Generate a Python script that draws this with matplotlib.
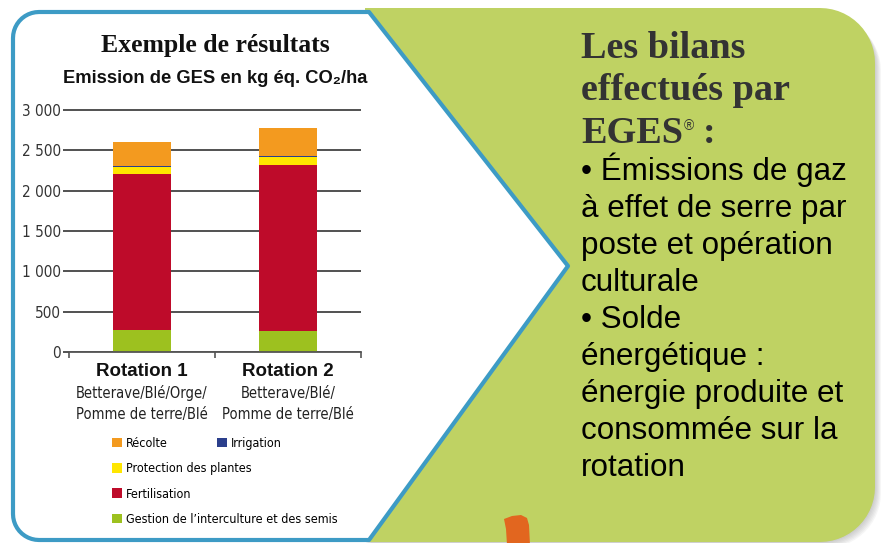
import os
import numpy as np
import matplotlib
matplotlib.use("Agg")
import matplotlib.pyplot as plt
import matplotlib.font_manager as fm
from matplotlib.patches import Polygon, Patch
from matplotlib.transforms import blended_transform_factory

# donnees (kg eq. CO2/ha)
rotations = ["Rotation 1", "Rotation 2"]
cultures = [["Betterave/Blé/Orge/", "Pomme de terre/Blé"], ["Betterave/Blé/", "Pomme de terre/Blé"]]
postes = ["Gestion de l’interculture et des semis", "Fertilisation",
          "Protection des plantes", "Irrigation", "Récolte"]
gestion = [270, 260]
fertilisation = [1940, 2060]
protection = [80, 95]
irrigation = [15, 15]
recolte = [300, 350]
couleurs = ["#9DC11F", "#BE0B2A", "#FFE600", "#2B3F8C", "#F39A1F"]
yticks = [0, 500, 1000, 1500, 2000, 2500, 3000]
ytick_labels = ["0", "500", "1 000", "1 500", "2 000", "2 500", "3 000"]

W, H = 881, 543
sans = ["Liberation Sans", "DejaVu Sans"]
serif = ["Liberation Serif", "DejaVu Serif"]


# police etroite si elle existe (sinon Liberation Sans un peu plus petite)
def police_etroite():
    fichiers = [f.fname for f in fm.fontManager.ttflist]
    for motif in ["LiberationSansNarrow-Regular", "DejaVuSansCondensed.", "Condensed-Regular", "Narrow-Regular"]:
        for f in fichiers:
            if motif in os.path.basename(f):
                return f
    return None


fichier_etroit = police_etroite()


def fp_etroite(taille):
    if fichier_etroit:
        return fm.FontProperties(fname=fichier_etroit, size=taille)
    return fm.FontProperties(family=sans, size=taille * 0.9)


def rect_arrondi_droite(x0, y0, x1, y1, r):
    # rectangle avec les deux coins de droite arrondis
    a_h = np.linspace(-0.5 * np.pi, 0, 15)
    a_b = np.linspace(0, 0.5 * np.pi, 15)
    haut = np.c_[x1 - r + r * np.cos(a_h), y0 + r + r * np.sin(a_h)]
    bas = np.c_[x1 - r + r * np.cos(a_b), y1 - r + r * np.sin(a_b)]
    return np.vstack([[[x0, y0]], haut, bas, [[x0, y1]]])


fig = plt.figure(figsize=(W / 100, H / 100), dpi=100)
fig.patch.set_facecolor("white")

# fond : panneau vert + panneau blanc en fleche
bg = fig.add_axes([0, 0, 1, 1], zorder=0)
bg.set_xlim(0, W)
bg.set_ylim(H, 0)
bg.axis("off")

for i in range(7):
    bg.add_patch(Polygon(rect_arrondi_droite(365 + i, 10 + i, 875 + i, 542 + i, 55), closed=True,
                         facecolor="#808080", edgecolor="none", alpha=0.07))
bg.add_patch(Polygon(rect_arrondi_droite(365, 8, 875, 542, 55), closed=True,
                     facecolor="#BFD263", edgecolor="none"))

r = 26
a1 = np.linspace(np.pi, 1.5 * np.pi, 12)
a2 = np.linspace(0.5 * np.pi, np.pi, 12)
coin_haut = np.c_[13 + r + r * np.cos(a1), 12 + r + r * np.sin(a1)]
coin_bas = np.c_[13 + r + r * np.cos(a2), 540 - r + r * np.sin(a2)]
contour = np.vstack([coin_haut, [[369, 12], [568, 266], [369, 540]], coin_bas])
bg.add_patch(Polygon(contour, closed=True, facecolor="white", edgecolor="#3D9BC5",
                     linewidth=3, joinstyle="round"))

bg.add_patch(Polygon([[504, 519], [512, 516], [521, 515], [527, 518], [529, 525],
                      [530, 545], [507, 545], [506, 529]], closed=True,
                     facecolor="#E2661F", edgecolor="none"))

# titres du graphique
bg.text(215, 52, "Exemple de résultats", family=serif, fontweight="bold", fontsize=18.5,
        ha="center", va="baseline", color="#111111")
bg.text(215, 83, "Emission de GES en kg éq. CO₂/ha", family=sans, fontweight="bold",
        fontsize=13.2, ha="center", va="baseline", color="#111111")

# texte de droite
titre = ["Les bilans", "effectués par"]
for k, ligne in enumerate(titre):
    bg.text(581, 58 + 42.5 * k, ligne, family=serif, fontweight="bold", fontsize=27.5,
            ha="left", va="baseline", color="#333333")
t_eges = bg.text(581, 143, "EGES", family=serif, fontweight="bold", fontsize=27.5,
                 ha="left", va="baseline", color="#333333")
rend = fig.canvas.get_renderer()
fin = bg.transData.inverted().transform(t_eges.get_window_extent(rend))[1, 0]
bg.text(fin + 1, 130, "®", family=sans, fontsize=10, ha="left", va="baseline", color="#333333")
bg.text(fin + 20, 143, ":", family=serif, fontweight="bold", fontsize=27.5,
        ha="left", va="baseline", color="#333333")

corps = ["• Émissions de gaz", "à effet de serre par", "poste et opération", "culturale",
         "• Solde", "énergétique :", "énergie produite et", "consommée sur la", "rotation"]
for k, ligne in enumerate(corps):
    bg.text(581, 180 + 37 * k, ligne, family=sans, fontsize=22.6,
            ha="left", va="baseline", color="#000000")

# graphique en barres empilees
ymax = 3050
px = 242 / 3000
ax = fig.add_axes([69 / W, 1 - 352 / H, 292 / W, ymax * px / H], zorder=2)
ax.patch.set_alpha(0)

x = np.arange(len(rotations))
series = [gestion, fertilisation, protection, irrigation, recolte]
bas = np.zeros(len(rotations))
for vals, nom, c in zip(series, postes, couleurs):
    ax.bar(x, vals, width=0.4, bottom=bas, color=c, label=nom, zorder=3)
    bas += np.array(vals)

ax.set_xlim(-0.5, 1.5)
ax.set_ylim(0, ymax)
for s in ["top", "right", "left"]:
    ax.spines[s].set_visible(False)
ax.spines["bottom"].set_color("#555555")
ax.spines["bottom"].set_linewidth(1.3)
ax.spines["bottom"].set_zorder(4)

ax.set_yticks(yticks)
ax.set_yticklabels(ytick_labels, fontproperties=fp_etroite(11), color="#333333")
ax.tick_params(axis="y", length=4.5, width=1.1, color="#222222", pad=1.5)
ax.yaxis.grid(True, color="#222222", linewidth=1.1)
ax.set_axisbelow(True)

ax.set_xticks(x)
ax.set_xticklabels([])
ax.tick_params(axis="x", which="major", length=0)
ax.set_xticks([-0.5, 0.5, 1.5], minor=True)
ax.tick_params(axis="x", which="minor", length=4, width=1.2, color="#555555")

tr = blended_transform_factory(ax.transData, fig.transFigure)
for xi, rot, cul in zip(x, rotations, cultures):
    ax.text(xi, 1 - 376 / H, rot, transform=tr, family=sans, fontweight="bold", fontsize=13.5,
            ha="center", va="baseline", color="#111111")
    for k, ligne in enumerate(cul):
        ax.text(xi, 1 - (398 + 21 * k) / H, ligne, transform=tr, fontproperties=fp_etroite(10.5),
                ha="center", va="baseline", color="#222222")

# legende : 4 postes a gauche, irrigation a droite
ordre_g = [4, 2, 1, 0]
poignees = [Patch(facecolor=couleurs[i], label=postes[i]) for i in ordre_g]
kw = dict(frameon=False, prop=fp_etroite(9), handlelength=0.8,
          handleheight=0.8, handletextpad=0.32, labelspacing=0.98, borderpad=0,
          borderaxespad=0, loc="upper left", bbox_transform=fig.transFigure)
leg1 = ax.legend(handles=poignees, bbox_to_anchor=(112 / W, 1 - 437 / H), **kw)
ax.add_artist(leg1)
ax.legend(handles=[Patch(facecolor=couleurs[3], label=postes[3])],
          bbox_to_anchor=(217 / W, 1 - 437 / H), **kw)

fig.savefig("out.png", dpi=100)
